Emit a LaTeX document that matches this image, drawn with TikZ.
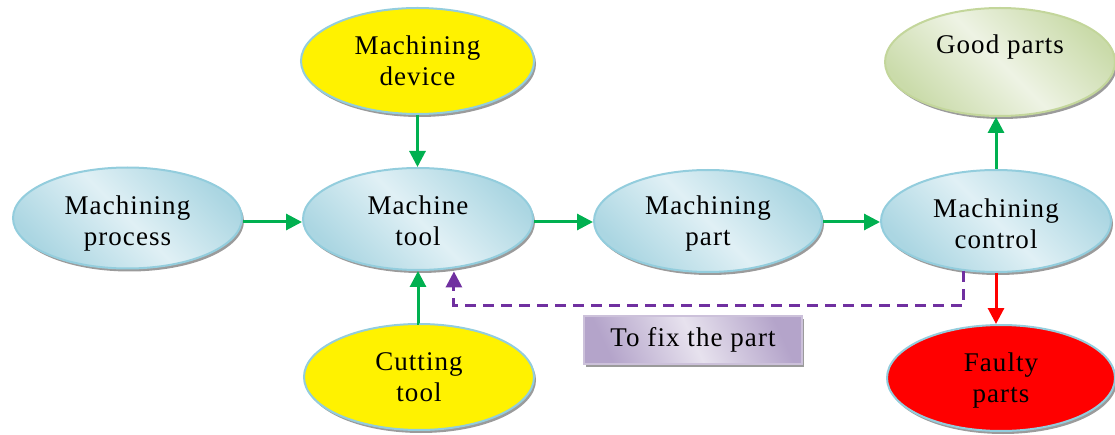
\documentclass[tikz,border=0pt]{standalone}
\usepackage{fontspec}
\setmainfont{Liberation Serif}[LetterSpace=4]
\usetikzlibrary{arrows.meta,shapes.geometric,shadows,calc}

\definecolor{bubbleedge}{HTML}{93CDDD}
\definecolor{bluedark}{HTML}{ABD6E2}
\definecolor{bluelight}{HTML}{E0F0F5}
\definecolor{greenedge}{HTML}{C3D69B}
\definecolor{greendark}{HTML}{CADBAA}
\definecolor{greenlight}{HTML}{EEF3E4}
\definecolor{flowgreen}{HTML}{00B050}
\definecolor{fixpurple}{HTML}{7030A0}
\definecolor{notedark}{HTML}{B4A4CA}
\definecolor{notelight}{HTML}{E7E2EE}
\definecolor{noteedge}{HTML}{CCC1DA}

% a strut that sets the height of a first text line (moves the text block down)
\newcommand{\firstline}[1]{\rule{0pt}{#1}}

\begin{document}
\begin{tikzpicture}[x=1pt,y=-1pt,
  every node/.style={font=\fontsize{27}{31}\selectfont, align=center, text=black},
  softshadow/.style={drop shadow={shadow xshift=2pt, shadow yshift=-3pt, fill=black!60, opacity=0.65}},
  bubble/.style={ellipse, inner sep=0pt, line width=2pt, draw=bubbleedge, softshadow},
  bluebubble/.style={bubble, top color=bluedark, bottom color=bluedark, middle color=bluelight, shading angle=-45},
  yellowbubble/.style={bubble, fill=yellow},
  redbubble/.style={bubble, fill=red},
  greenbubble/.style={bubble, draw=greenedge, top color=greendark, bottom color=greendark, middle color=greenlight, shading angle=-45},
  notebox/.style={rectangle, inner sep=0pt, line width=1.5pt, draw=noteedge, top color=notedark, bottom color=notedark, middle color=notelight, shading angle=-65, softshadow},
  tip/.style={-{Triangle[length=16pt,width=16pt]}},
  flow/.style={line width=3pt, draw=flowgreen, tip},
  reject/.style={line width=3pt, draw=red, tip},
  fixline/.style={line width=3pt, draw=fixpurple, dash pattern=on 11pt off 7pt, tip}
]
\useasboundingbox (0,0) rectangle (1115,435);

% main row
\node[bluebubble, minimum width=229pt, minimum height=101pt] (process) at (127.5,218) {\firstline{30.5pt}Machining\\process};
\node[bluebubble, minimum width=230pt, minimum height=102pt] (tool) at (418,219) {\firstline{22.5pt}Machine\\tool};
\node[bluebubble, minimum width=228pt, minimum height=102pt] (part) at (708,221) {\firstline{24.5pt}Machining\\part};
\node[bluebubble, minimum width=230pt, minimum height=102pt] (control) at (996,221) {\firstline{24.5pt}Machining\\control};

% inputs to the machine tool
\node[yellowbubble, minimum width=233pt, minimum height=106pt] (device) at (417.5,61) {Machining\\device};
\node[yellowbubble, minimum width=230pt, minimum height=106pt] (cutting) at (419,377) {Cutting\\tool};

% inspection outcomes
\node[greenbubble, minimum width=230pt, minimum height=108pt] (good) at (1000,62) {\raisebox{36pt}{Good parts}};
\node[redbubble, minimum width=228pt, minimum height=106pt] (faulty) at (1001,378) {\firstline{24.5pt}Faulty\\parts};

% rework note
\node[notebox, minimum width=218pt, minimum height=48pt] (fixnote) at (693,340) {To fix the part};

% flow connectors
\coordinate (flowrow) at (0,222);
\draw[flow] (process.east |- flowrow) -- (tool.west |- flowrow);
\draw[flow] (tool.east |- flowrow) -- (part.west |- flowrow);
\draw[flow] (part.east |- flowrow) -- (control.west |- flowrow);
\draw[flow] (device.south) -- (device.south |- tool.north);
\draw[flow] (cutting.north) -- (cutting.north -| tool.south) -- (tool.south);
\draw[flow] (control.north) -- (control.north |- good.south);
\draw[reject] (control.south) -- (control.south |- faulty.north);

% rework loop back to the machine tool
\coordinate (fixlane) at (0,305);
\draw[fixline, shorten >=3pt] (control.-123) |- (fixlane -| tool.-54) -- (tool.-54);
\end{tikzpicture}
\end{document}
